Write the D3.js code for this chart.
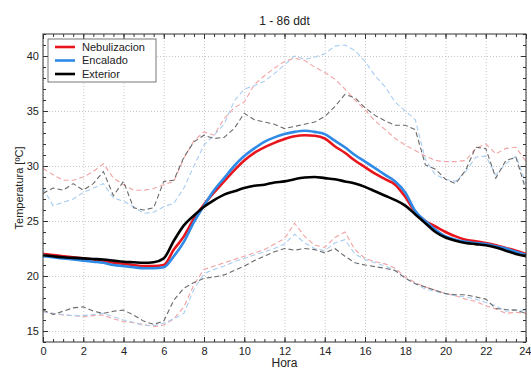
<!DOCTYPE html>
<html>
<head>
<meta charset="utf-8">
<script src="https://cdn.jsdelivr.net/npm/d3@7"></script>
<style>
  body { margin: 0; background: #fff; }
  text { font-family: "Liberation Sans", Arial, sans-serif; fill: #222; }
  .grid line { stroke: #c8c8c8; stroke-dasharray: 1,2; }
  .grid path { display: none; }
  .ax path { display: none; }
  .ax line { stroke: #333; }
</style>
</head>
<body>
<div id="chart"></div>
<script>
// hours, every half hour
var hours = d3.range(0, 24.01, 0.5);

// mean temperatures
var nebMean = [22.0, 21.9, 21.8, 21.7, 21.6, 21.5, 21.4, 21.2, 21.1, 21.0, 20.9, 20.9,
  21.0, 22.4, 23.6, 25.2, 26.5, 27.6, 28.6, 29.6, 30.5, 31.2, 31.7, 32.1,
  32.45, 32.7, 32.8, 32.75, 32.5, 31.8, 31.2, 30.5, 29.9, 29.3, 28.8, 28.3,
  27.2, 25.8, 25.0, 24.5, 24.0, 23.6, 23.3, 23.15, 23.0, 22.8, 22.55, 22.3, 22.0];
var encMean = [21.8, 21.7, 21.6, 21.5, 21.4, 21.3, 21.2, 21.0, 20.9, 20.8, 20.7, 20.7,
  20.8, 21.8, 23.1, 24.9, 26.4, 27.8, 28.9, 30.0, 30.9, 31.6, 32.2, 32.6,
  32.9, 33.1, 33.2, 33.1, 32.9, 32.3, 31.7, 31.0, 30.4, 29.8, 29.2, 28.6,
  27.6, 25.9, 25.0, 24.2, 23.6, 23.3, 23.1, 23.0, 22.9, 22.7, 22.5, 22.2, 21.9];
var extMean = [21.9, 21.8, 21.7, 21.65, 21.6, 21.55, 21.5, 21.4, 21.3, 21.25, 21.2, 21.25,
  21.6, 23.2, 24.6, 25.5, 26.3, 26.9, 27.4, 27.7, 28.0, 28.2, 28.3, 28.5,
  28.6, 28.8, 28.95, 29.0, 28.9, 28.8, 28.6, 28.4, 28.1, 27.7, 27.3, 26.9,
  26.4, 25.6, 24.8, 24.0, 23.5, 23.2, 23.0, 22.9, 22.8, 22.6, 22.3, 22.0, 21.8];

// maximum temperatures
var nebMax = [29.8, 29.2, 28.7, 28.7, 29.0, 29.5, 30.2, 28.9, 28.3, 27.8, 27.8, 27.95,
  28.3, 28.6, 30.7, 32.3, 33.1, 32.8, 34.3, 35.3, 35.8, 37.4, 38.2, 38.9,
  39.5, 39.8, 39.6, 39.0, 38.5, 37.9, 37.0, 36.0, 35.1, 34.1, 33.3, 32.5,
  31.9, 31.4, 30.9, 30.5, 30.4, 30.4, 30.5, 31.6, 32.0, 31.1, 31.6, 31.7, 30.4];
var encMax = [28.0, 26.4, 26.7, 27.0, 27.6, 28.0, 28.4, 27.1, 26.8, 26.3, 25.7, 25.8,
  26.3, 26.6, 28.0, 30.0, 31.9, 32.8, 33.8, 35.9, 37.0, 37.3, 37.7, 38.4,
  39.2, 40.0, 39.7, 39.9, 40.2, 40.9, 41.0, 40.5, 39.5, 38.2, 37.2, 35.8,
  35.0, 34.2, 30.6, 29.2, 28.8, 28.6, 29.5, 30.8, 30.9, 29.2, 30.2, 30.9, 28.4];
var extMax = [27.5, 28.0, 27.8, 28.4, 27.8, 28.4, 29.5, 27.3, 28.6, 26.2, 26.0, 26.2,
  28.6, 28.7, 30.8, 32.2, 32.8, 32.5, 32.6, 33.4, 34.8, 34.2, 34.0, 33.8,
  33.4, 33.6, 33.8, 34.0, 34.5, 35.4, 36.5, 36.2, 35.3, 34.6, 34.1, 33.7,
  33.7, 33.3, 30.1, 29.7, 28.8, 28.4, 29.6, 31.7, 31.6, 28.9, 30.5, 30.8, 27.8];

// minimum temperatures
var nebMin = [16.75, 16.6, 16.45, 16.4, 16.3, 16.4, 16.45, 16.1, 15.85, 15.75, 15.6, 15.4,
  15.55, 16.1, 17.2, 19.2, 20.6, 20.9, 21.2, 21.5, 21.8, 22.1, 22.4, 22.9,
  23.4, 24.8, 23.6, 22.8, 22.6, 23.5, 24.0, 22.4, 21.6, 21.3, 21.1, 20.7,
  19.9, 19.4, 19.0, 18.7, 18.4, 18.2, 17.9, 17.7, 17.3, 17.0, 16.6, 16.7, 16.6];
var encMin = [16.75, 16.6, 16.5, 16.4, 16.4, 16.5, 16.6, 16.3, 16.0, 15.8, 15.5, 15.5,
  15.7, 16.1, 16.6, 18.8, 20.2, 20.6, 20.9, 21.3, 21.6, 21.9, 22.2, 22.5,
  22.9, 23.8, 23.0, 22.5, 22.3, 23.0, 23.3, 22.0, 21.5, 21.2, 20.9, 20.5,
  19.8, 19.3, 18.8, 18.6, 18.4, 18.2, 18.1, 17.9, 17.6, 17.3, 16.8, 16.9, 16.9];
var extMin = [16.9, 16.5, 16.8, 17.1, 17.2, 16.8, 16.6, 16.8, 16.9, 16.45, 15.9, 15.6,
  15.9, 17.8, 18.9, 19.4, 19.8, 19.9, 20.1, 20.5, 20.9, 21.4, 21.8, 22.2,
  22.5, 22.35, 22.5, 22.4, 22.1, 22.5, 21.8, 21.2, 21.0, 20.85, 20.7, 20.5,
  19.8, 19.3, 19.0, 18.7, 18.4, 18.3, 18.3, 18.1, 17.9, 17.05, 16.95, 16.9, 16.6];

var seriesNames = ["Nebulizacion", "Encalado", "Exterior"];
var xTicks = d3.range(0, 25, 2);
var yTicks = [15, 20, 25, 30, 35, 40];

var margin = { top: 34, left: 43, bottom: 27, right: 5 };
var width = 531 - margin.left - margin.right;
var height = 369 - margin.top - margin.bottom;

var root = d3.select("#chart").append("svg")
    .attr("width", 531)
    .attr("height", 369);

var svg = root.append("g")
    .attr("transform", "translate(" + margin.left + "," + margin.top + ")");

var x = d3.scaleLinear().domain([0, 24]).range([0, width]);
var y = d3.scaleLinear().domain([14, 42]).range([height, 0]);

// grid
svg.append("g")
    .attr("class", "grid")
    .attr("transform", "translate(0," + height + ")")
    .call(d3.axisBottom(x).tickValues(xTicks).tickSize(-height).tickFormat(""));
svg.append("g")
    .attr("class", "grid")
    .call(d3.axisLeft(y).tickValues(yTicks).tickSize(-width).tickFormat(""));

// lines
var line = function (vals) {
    return d3.line()
        .x(function (d, i) { return x(hours[i]); })
        .y(function (d) { return y(d); })(vals);
};
var smooth = function (vals) {
    return d3.line()
        .curve(d3.curveMonotoneX)
        .x(function (d, i) { return x(hours[i]); })
        .y(function (d) { return y(d); })(vals);
};

var dashed = [
    { v: nebMax, c: "#f2a3a3" }, { v: encMax, c: "#a9cdf0" }, { v: extMax, c: "#6a6a6a" },
    { v: nebMin, c: "#f2a3a3" }, { v: encMin, c: "#a9cdf0" }, { v: extMin, c: "#6a6a6a" }
];
dashed.forEach(function (s) {
    svg.append("path")
        .attr("d", line(s.v))
        .attr("fill", "none")
        .attr("stroke", s.c)
        .attr("stroke-width", 1.1)
        .attr("stroke-dasharray", "5,3");
});

var solid = [
    { v: nebMean, c: "#e8161c" }, { v: encMean, c: "#2e8ae6" }, { v: extMean, c: "#000000" }
];
solid.forEach(function (s) {
    svg.append("path")
        .attr("d", smooth(s.v))
        .attr("fill", "none")
        .attr("stroke", s.c)
        .attr("stroke-width", 2.6);
});

// axes, ticks inside on all four sides
var xMinor = d3.range(0, 24.01, 0.5);
var yMinor = d3.range(14, 42.01, 1);

svg.append("g").attr("class", "ax").attr("transform", "translate(0," + height + ")")
    .call(d3.axisBottom(x).tickValues(xMinor).tickSize(-3).tickFormat(""));
svg.append("g").attr("class", "ax")
    .call(d3.axisTop(x).tickValues(xMinor).tickSize(-3).tickFormat(""));
svg.append("g").attr("class", "ax")
    .call(d3.axisLeft(y).tickValues(yMinor).tickSize(-3).tickFormat(""));
svg.append("g").attr("class", "ax").attr("transform", "translate(" + width + ",0)")
    .call(d3.axisRight(y).tickValues(yMinor).tickSize(-3).tickFormat(""));

svg.append("g").attr("class", "ax x_axis").attr("transform", "translate(0," + height + ")")
    .call(d3.axisBottom(x).tickValues(xTicks).tickSize(-5).tickPadding(5))
    .selectAll("text")
    .style("font-size", "11px")
    .attr("text-anchor", function (d) { return d === 24 ? "end" : "middle"; })
    .attr("x", function (d) { return d === 24 ? 5 : 0; });
svg.append("g").attr("class", "ax")
    .call(d3.axisTop(x).tickValues(xTicks).tickSize(-5).tickFormat(""));
svg.append("g").attr("class", "ax y_axis")
    .call(d3.axisLeft(y).tickValues(yTicks).tickSize(-5).tickPadding(4))
    .selectAll("text").style("font-size", "11px");
svg.append("g").attr("class", "ax").attr("transform", "translate(" + width + ",0)")
    .call(d3.axisRight(y).tickValues(yTicks).tickSize(-5).tickFormat(""));

svg.selectAll(".ax text").attr("fill", "#222");

// frame
svg.append("rect")
    .attr("width", width)
    .attr("height", height)
    .attr("fill", "none")
    .attr("stroke", "#333")
    .attr("stroke-width", 1);

// title and labels
svg.append("text")
    .attr("x", width / 2)
    .attr("y", -9)
    .attr("text-anchor", "middle")
    .style("font-size", "12px")
    .text("1 - 86 ddt");

svg.append("text")
    .attr("x", width / 2)
    .attr("y", height + 25)
    .attr("text-anchor", "middle")
    .style("font-size", "12px")
    .text("Hora");

svg.append("text")
    .attr("transform", "rotate(-90)")
    .attr("x", -height / 2)
    .attr("y", -20)
    .attr("text-anchor", "middle")
    .style("font-size", "11px")
    .text("Temperatura [ºC]");

// legend
var legend = svg.append("g").attr("transform", "translate(5,5)");
legend.append("rect")
    .attr("width", 108)
    .attr("height", 43)
    .attr("fill", "#fff")
    .attr("stroke", "#555")
    .attr("stroke-width", 0.8);
seriesNames.forEach(function (name, i) {
    var yy = 8 + i * 13.5;
    legend.append("line")
        .attr("x1", 7).attr("x2", 27)
        .attr("y1", yy).attr("y2", yy)
        .attr("stroke", solid[i].c)
        .attr("stroke-width", 2.6);
    legend.append("text")
        .attr("x", 34)
        .attr("y", yy)
        .attr("dy", "0.35em")
        .style("font-size", "11px")
        .text(name);
});
</script>
</body>
</html>
